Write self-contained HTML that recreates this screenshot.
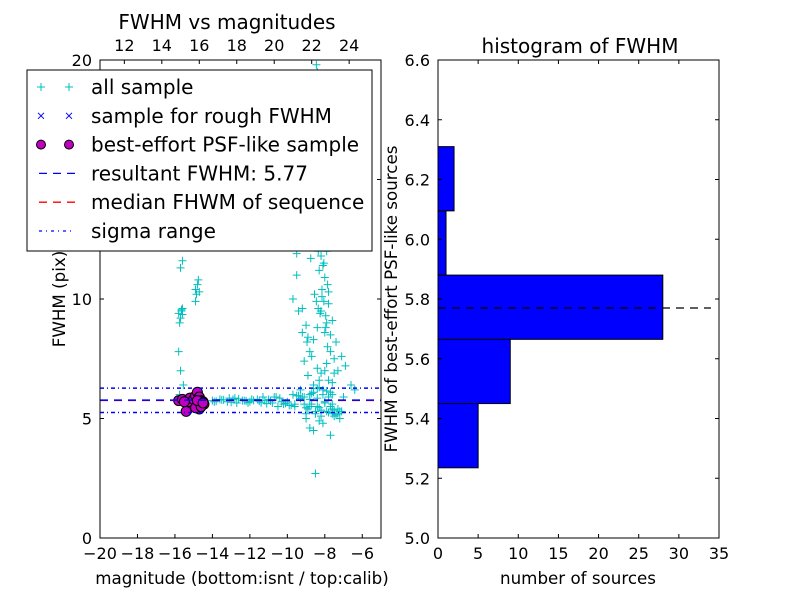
<!DOCTYPE html>
<html><head><meta charset="utf-8"><style>
body{margin:0;background:#fff;}
svg text{font-family:"DejaVu Sans","Liberation Sans",sans-serif;fill:#000;}
</style></head><body>
<svg id="c" width="800" height="600" xmlns="http://www.w3.org/2000/svg"></svg>
<script>
// ---- data ----
const allSampleX = [-15.8,-15.7,-15.6,-15.75,-15.65,-15.7,-15.6,-15.8,-15.55,-15.7,-14.9,-14.8,-14.7,-14.85,-14.75,-14.9,-15.7,-15.75,-15.6,-15.65,
 -10.6,-10.3,-10.0,-9.8,-9.6,-9.5,-9.3,-9.1,-9.0,-8.9,-8.8,-8.7,-8.6,-8.5,-8.4,-8.3,-8.2,-8.1,-8.0,-7.9,-7.8,-7.6,-9.7,-9.4,-9.2,-8.95,-8.75,-8.55,-8.45,-8.35,-8.25,-8.15,-8.05,-7.95,-7.85,-7.7,-7.5,-7.3,-7.1,-6.9,-6.6,-6.4,-9.9,-8.65,-8.5,-8.3,-8.1,-8.0,-7.9,-8.8,-8.6,-7.4,-8.9,-9.1,-8.2,-8.4,-7.8,-7.6,-8.7,-8.45,-8.35,-8.1,-7.7,-9.0,-8.6,-8.3,-8.5,-8.8,
 -8.6,-8.4,-8.2,-8.0,-7.8,-8.5,-8.3,-8.1,-7.9,-8.7,-8.45,-8.25,-8.05,-7.85,-8.55,-8.35,-8.15,-7.95,-9.2,-9.5,-9.0,-8.9,-8.7,-8.4,-8.2,-7.9,-7.7,-7.5,-8.6,-8.3,-8.0,-7.6,
 -14.0,-13.6,-13.2,-12.8,-12.4,-12.0,-11.6,-11.2,-10.8,-10.4,-10.0,-9.6,-9.2,-8.8,-8.4,-8.0,-7.6,-7.2,-13.8,-13.4,-13.0,-12.6,-12.2,-11.8,-11.4,-11.0,-10.6,-10.2,-9.8,-9.4,-9.0,-8.6,-8.2,-7.8,-7.4,-9.3,-8.9,-8.5,-8.1,-7.7,-9.1,-8.7,-8.3,-7.9,-7.5,-8.0,-7.6,-7.3,-8.4,-8.8,
 -13.9,-13.5,-13.1,-12.7,-12.3,-11.9,-11.5,-11.1,-10.7,-10.3,-9.9,-9.5,-9.1,-8.7,-8.3,-7.9,-7.5,-12.9,-12.1,-11.3,-10.5,-9.7,-8.9,-8.1,-7.3,-10.9,-10.1,-9.3,-8.5,-7.7,-9.6,-9.0,-8.4,-7.8,-8.8,-8.2,-7.6,-7.1,-7.0,-7.2];
const allSampleY = [9.4,9.2,9.6,9.0,9.5,11.3,11.6,7.8,6.4,7.0,10.4,10.6,10.3,10.2,10.8,9.9,5.8,6.0,9.35,9.55,
 13.5,13.8,14.1,14.5,12.3,11.0,12.5,13.9,15.2,14.0,16.8,17.4,18.0,18.9,19.5,17.6,16.2,15.0,13.5,12.0,10.3,9.1,10.0,9.5,8.6,8.2,11.7,10.2,9.9,9.6,9.4,10.1,9.9,8.8,8.0,7.8,7.5,7.0,7.6,7.2,6.4,6.2,13.0,12.9,12.2,11.2,11.4,8.6,9.0,7.8,8.3,8.2,6.8,7.4,6.9,7.1,6.6,6.5,19.2,19.8,18.5,4.8,4.3,5.0,4.5,4.9,2.7,4.6,
 13.2,12.6,11.8,10.9,9.8,15.6,14.8,13.9,12.4,16.1,14.3,13.1,11.5,10.6,15.1,12.0,10.4,9.3,9.6,11.9,8.9,8.4,7.6,8.8,9.5,7.3,8.5,6.9,6.4,6.6,7.0,5.2,
 5.75,5.8,5.7,5.85,5.75,5.7,5.8,5.75,5.65,5.85,5.7,5.6,5.9,5.5,5.85,5.65,5.4,5.3,5.72,5.78,5.68,5.82,5.74,5.76,5.66,5.8,5.9,5.6,5.55,5.95,5.45,6.1,5.35,5.25,5.15,6.2,5.4,5.2,6.0,5.5,5.9,5.6,6.3,5.3,5.1,5.7,6.0,5.4,5.5,5.8,
 5.7,5.78,5.85,5.65,5.75,5.8,5.72,5.62,5.9,5.7,5.55,5.95,5.6,6.05,5.45,6.15,5.35,5.8,5.66,5.9,5.5,6.0,5.4,6.2,5.2,5.74,5.64,5.84,5.3,6.1,5.5,5.2,6.25,5.9,6.0,5.1,5.6,5.3,5.9,5.0];
const psfX = [-15.8,-15.6,-15.4,-15.3,-15.2,-15.0,-14.9,-14.8,-14.7,-14.6,-14.5,-14.45,-14.7,-14.9,-15.5,-14.6,-14.8,-14.5];
const psfY = [5.75,5.8,5.3,5.7,5.85,5.8,5.95,6.1,5.9,5.75,5.7,5.6,5.4,5.45,5.7,5.5,5.75,5.65];
const resultFWHM = 5.77, medianFWHM = 5.76, sigmaLo = 5.25, sigmaHi = 6.27;
const histBinEdges = [5.235,5.450,5.665,5.880,6.095,6.310];
const histCounts = [5,9,28,1,2];
const xTicksBottom = [-20,-18,-16,-14,-12,-10,-8,-6];
const xTicksTop = [12,14,16,18,20,22,24];
const yTicksLeft = [0,5,10,15,20];
const hxTicks = [0,5,10,15,20,25,30,35];
const hyTicks = [5.0,5.2,5.4,5.6,5.8,6.0,6.2,6.4,6.6];
const topOffset = 30.7;

const S = document.getElementById('c'), NS='http://www.w3.org/2000/svg';
function el(t,a,p){const e=document.createElementNS(NS,t);for(const k in a)e.setAttribute(k,a[k]);(p||S).appendChild(e);return e;}
function txt(x,y,s,size,anchor,extra,p){const e=el('text',Object.assign({x:x,y:y,'font-size':size,'text-anchor':anchor||'middle'},extra||{}),p);e.textContent=s;return e;}

// left axes
const L={x0:100,x1:381,y0:538,y1:60};
const lx=v=>L.x0+(v+20)/15*(L.x1-L.x0), ly=v=>L.y0-v/20*(L.y0-L.y1);
const clipL=el('clipPath',{id:'cl'});el('rect',{x:L.x0,y:L.y1,width:L.x1-L.x0,height:L.y0-L.y1},clipL);
const gL=el('g',{'clip-path':'url(#cl)'});


allSampleX.forEach((x,i)=>{const X=lx(x),Y=ly(allSampleY[i]);
 const p=el('path',{d:`M${X-4},${Y}H${X+4}M${X},${Y-4}V${Y+4}`,stroke:'#00bfbf','stroke-width':1},gL);
 
 });
const lineDefs=[[sigmaHi,'#0000ff','4,3,1,3','sigma-high-line'],[sigmaLo,'#0000ff','4,3,1,3','sigma-low-line'],[medianFWHM,'#ff0000','8,6','median-fwhm-line'],[resultFWHM,'#0000ff','8,6','resultant-fwhm-line']];
psfX.forEach((x,i)=>{const c=el('circle',{cx:lx(x),cy:ly(psfY[i]),r:5,fill:'#bf00bf',stroke:'#000','stroke-width':1},gL);
 
 });
lineDefs.forEach(d=>{const l=el('line',{x1:L.x0,x2:L.x1,y1:ly(d[0]),y2:ly(d[0]),stroke:d[1],'stroke-width':1.5,'stroke-dasharray':d[2]},gL);
 
 });
el('rect',{x:L.x0,y:L.y1,width:L.x1-L.x0,height:L.y0-L.y1,fill:'none',stroke:'#000'});
xTicksBottom.forEach(v=>{const X=lx(v);el('path',{d:`M${X},${L.y0}v-4`,stroke:'#000'});
 const t=txt(X,L.y0+21,(v<0?'\u2212':'')+Math.abs(v),16);
 
 });
xTicksTop.forEach(v=>{const X=lx(v-topOffset);el('path',{d:`M${X},${L.y1}v4`,stroke:'#000'});
 const t=txt(X,L.y1-9,String(v),16);
 
 });
yTicksLeft.forEach(v=>{const Y=ly(v);el('path',{d:`M${L.x0},${Y}h4M${L.x1},${Y}h-4`,stroke:'#000'});
 const t=txt(L.x0-8,Y+6,String(v),16,'end');
 
 });
let t=txt(227,29,'FWHM vs magnitudes',20);
t=txt(242,584,'magnitude (bottom:isnt / top:calib)',16.7);
t=txt(0,0,'FWHM (pix)',16.7,'middle',{transform:'translate(65,299) rotate(-90)'});

// legend
const lg=el('g',{});


el('rect',{x:27,y:70,width:345,height:181,fill:'#fff',stroke:'#000'},lg);
const labels=['all sample','sample for rough FWHM','best-effort PSF-like sample','resultant FWHM: 5.77','median FHWM of sequence','sigma range'];
labels.forEach((s,i)=>{const Y=87+i*28.8;
 const g=el('g',{},lg);
 
 
 [41,69].forEach(X=>{
  if(i==0)el('path',{d:`M${X-4},${Y}H${X+4}M${X},${Y-4}V${Y+4}`,stroke:'#00bfbf'},g);
  if(i==1)el('path',{d:`M${X-3},${Y-3}L${X+3},${Y+3}M${X-3},${Y+3}L${X+3},${Y-3}`,stroke:'#0000ff'},g);
  if(i==2)el('circle',{cx:X,cy:Y,r:4.5,fill:'#bf00bf',stroke:'#000'},g);});
 if(i>=3)el('line',{x1:39,x2:75,y1:Y,y2:Y,stroke:i==4?'#ff0000':'#0000ff','stroke-width':1.3,'stroke-dasharray':i==5?'3,4,1,4':'8,6'},g);
 txt(91,Y+7,s,20,'start',{},g);});

// right histogram
const R={x0:438,x1:719,y0:538,y1:60};
const hx=v=>R.x0+v/35*(R.x1-R.x0), hy=v=>R.y0-(v-5)/1.6*(R.y0-R.y1);
histCounts.forEach((c,i)=>{const r=el('rect',{x:hx(0),y:hy(histBinEdges[i+1]),width:hx(c)-hx(0),height:hy(histBinEdges[i])-hy(histBinEdges[i+1]),fill:'#0000ff',stroke:'#000'});
 
 });
const ml=el('line',{x1:hx(0),x2:hx(34),y1:hy(resultFWHM),y2:hy(resultFWHM),stroke:'#000','stroke-width':1.3,'stroke-dasharray':'8,6'});


el('rect',{x:R.x0,y:R.y1,width:R.x1-R.x0,height:R.y0-R.y1,fill:'none',stroke:'#000'});
hxTicks.forEach(v=>{const X=hx(v);el('path',{d:`M${X},${R.y0}v-4M${X},${R.y1}v4`,stroke:'#000'});
 const t=txt(X,R.y0+21,String(v),16);
 
 });
hyTicks.forEach(v=>{const Y=hy(v);el('path',{d:`M${R.x0},${Y}h4M${R.x1},${Y}h-4`,stroke:'#000'});
 const t=txt(R.x0-8,Y+6,v.toFixed(1),16,'end');
 
 });
t=txt(580,53,'histogram of FWHM',20);
t=txt(578,584,'number of sources',16.7);
t=txt(0,0,'FWHM of best-effort PSF-like sources',16.7,'middle',{transform:'translate(397,299) rotate(-90)'});
</script>
</body></html>
